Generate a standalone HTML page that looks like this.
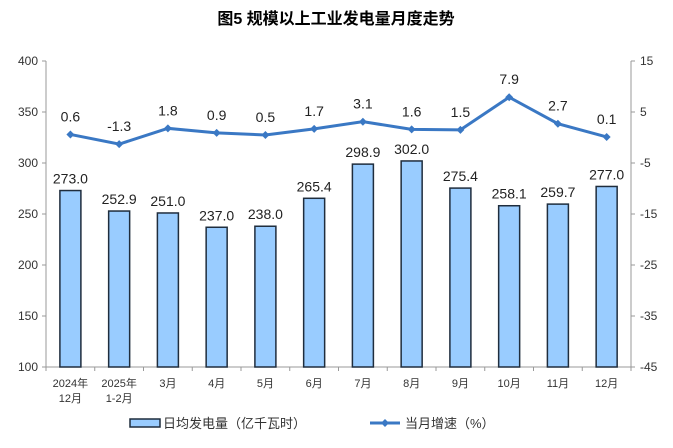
<!DOCTYPE html>
<html><head><meta charset="utf-8"><style>
body{margin:0;background:#fff;}
svg text{font-family:"Liberation Sans","Noto Sans CJK SC",sans-serif;}
</style></head><body>
<svg width="673" height="443" xmlns="http://www.w3.org/2000/svg">
<text x="336" y="24" text-anchor="middle" font-size="16" font-weight="bold" fill="#000">图5  规模以上工业发电量月度走势</text>
<g stroke="#999" stroke-width="1" fill="none">
<line x1="46" y1="61" x2="46" y2="367"/>
<line x1="631" y1="61" x2="631" y2="367"/>
<line x1="46" y1="367" x2="631" y2="367"/>
</g>
<g stroke="#999" stroke-width="1" id="ticks"></g>
<g font-size="12" fill="#333" id="ylab"></g>
<g id="bars"></g>
<g id="line"></g>
<g font-size="11" fill="#333" id="xlab" font-family="Liberation Mono,Noto Sans CJK SC,monospace"></g>
<rect x="130" y="419" width="30" height="8" fill="#99ccff" stroke="#1f2d3d" stroke-width="1.5"/>
<text x="163" y="428" font-size="13" fill="#333">日均发电量（亿千瓦时）</text>
<line x1="370" y1="423" x2="400" y2="423" stroke="#3a78c4" stroke-width="3"/>
<path d="M385 419 L389 423 L385 427 L381 423Z" fill="#3a78c4"/>
<text x="405" y="428" font-size="13" fill="#333">当月增速（%）</text>
</svg>
<script>
const ns="http://www.w3.org/2000/svg";
function el(p,t,a,txt){const e=document.createElementNS(ns,t);for(const k in a)e.setAttribute(k,a[k]);if(txt!=null)e.textContent=txt;document.getElementById(p).appendChild(e);return e;}
const yL=v=>367-(v-100)*1.02, yR=v=>367-(v+45)*5.1;
for(let v=100;v<=400;v+=50){const y=yL(v);el("ticks","line",{x1:42,y1:y,x2:46,y2:y});el("ylab","text",{x:38,y:y+4,"text-anchor":"end"},v);}
for(let v=-45;v<=15;v+=10){const y=yR(v);el("ticks","line",{x1:631,y1:y,x2:635,y2:y});el("ylab","text",{x:640,y:y+4},v);}
for(let i=0;i<=12;i++){const x=46+i*48.75;el("ticks","line",{x1:x,y1:367,x2:x,y2:371});}
const bars=[273.0,252.9,251.0,237.0,238.0,265.4,298.9,302.0,275.4,258.1,259.7,277.0];
const g=[0.6,-1.3,1.8,0.9,0.5,1.7,3.1,1.6,1.5,7.9,2.7,0.1];
const labs=[["2024年","12月"],["2025年","1-2月"],["3月"],["4月"],["5月"],["6月"],["7月"],["8月"],["9月"],["10月"],["11月"],["12月"]];
let pts=[];
bars.forEach((b,i)=>{const cx=46+24.4+i*48.75;const y=yL(b);
el("bars","rect",{x:cx-10.5,y:y,width:21,height:367-y,fill:"#99ccff",stroke:"#1f2d3d","stroke-width":1.5});
el("bars","text",{x:cx,y:y-7,"text-anchor":"middle","font-size":14,fill:"#222"},b.toFixed(1));
const ly=yR(g[i]);pts.push(cx+","+ly);
labs[i].forEach((t,k)=>el("xlab","text",{x:cx,y:387+k*15,"text-anchor":"middle"},t));
});
el("line","polyline",{points:pts.join(" "),fill:"none",stroke:"#3a78c4","stroke-width":3});
pts.forEach((p,i)=>{const [x,y]=p.split(",").map(Number);
el("line","path",{d:`M${x} ${y-4}L${x+4} ${y}L${x} ${y+4}L${x-4} ${y}Z`,fill:"#3a78c4"});
el("line","text",{x:x,y:y-13,"text-anchor":"middle","font-size":14,fill:"#222"},g[i].toFixed(1));});
</script>
</body></html>
